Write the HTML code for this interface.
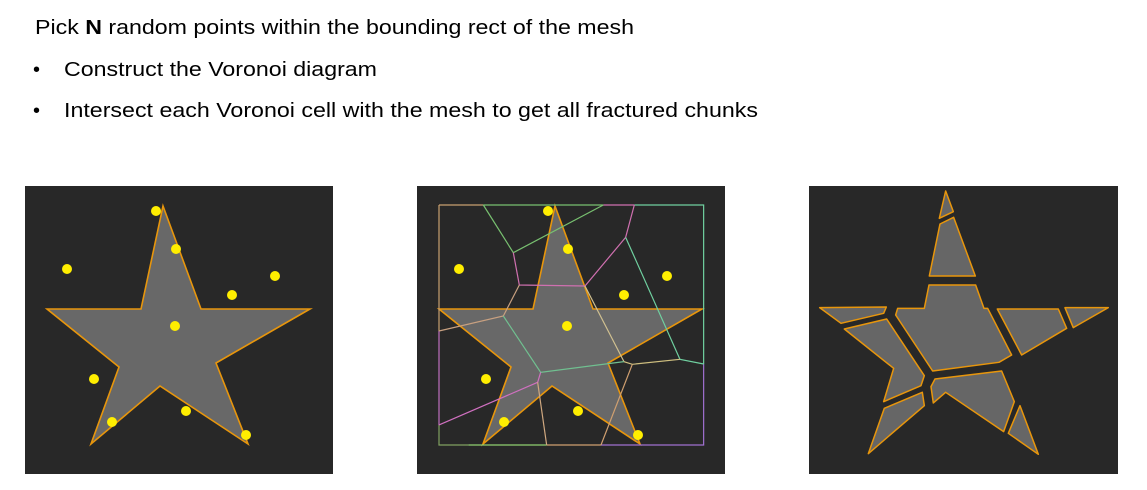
<!DOCTYPE html>
<html><head><meta charset="utf-8"><style>
html,body{margin:0;padding:0;background:#fff;width:1147px;height:490px;overflow:hidden}
svg{display:block}
text{font-family:"Liberation Sans",Arial,sans-serif;fill:#000}
</style></head><body>
<svg id="s" width="1147" height="490" viewBox="0 0 1147 490">
  <text x="35" y="34" font-size="20" textLength="599" lengthAdjust="spacingAndGlyphs">Pick <tspan font-weight="bold">N</tspan> random points within the bounding rect of the mesh</text>
  <text x="33" y="76" font-size="20">•</text>
  <text x="64" y="76" font-size="20" textLength="313" lengthAdjust="spacingAndGlyphs">Construct the Voronoi diagram</text>
  <text x="33" y="117" font-size="20">•</text>
  <text x="64" y="117" font-size="20" textLength="694" lengthAdjust="spacingAndGlyphs">Intersect each Voronoi cell with the mesh to get all fractured chunks</text>

  <g>
    <rect x="25" y="186" width="308" height="288" fill="#282828"/>
    <g id="star1" transform="translate(-392,0)"></g>
    <g id="pts1" transform="translate(-392,0)"></g>
  </g>

  <g>
    <rect x="417" y="186" width="308" height="288" fill="#282828"/>
    <g id="star2"></g>
    <g transform="translate(415,185) scale(0.3333)" fill="none" stroke-width="3.6">
      <path d="M72,60 L205,60" stroke="#c8a070"/>
      <path d="M205,60 L565,60" stroke="#78c070"/>
      <path d="M565,60 L658,60" stroke="#d070b0"/>
      <path d="M658,60 L866,60 L866,537" stroke="#70d0a0"/>
      <path d="M866,537 L866,780 L558,780" stroke="#a070d0"/>
      <path d="M558,780 L395,780" stroke="#d0a070"/>
      <path d="M395,780 L160,780" stroke="#90d070"/>
      <path d="M160,780 L72,780 L72,720" stroke="#80a060"/>
      <path d="M72,720 L72,438" stroke="#c070c0"/>
      <path d="M72,438 L72,60" stroke="#c8a070"/>
      <path d="M205,60 L295,203 L565,60" stroke="#78c070"/>
      <path d="M295,203 L313,300 L510,303 L632,157 L658,60" stroke="#d070b0"/>
      <path d="M632,157 L795,523 L866,537" stroke="#70d0a0"/>
      <path d="M510,303 L627,530" stroke="#d0c090"/>
      <path d="M313,300 L265,393 L72,438" stroke="#c8a080"/>
      <path d="M265,393 L377,562 L627,530" stroke="#70c090"/>
      <path d="M627,530 L652,538 L795,523" stroke="#d0c080"/>
      <path d="M652,538 L558,780" stroke="#d0a070"/>
      <path d="M377,562 L368,592 L72,720" stroke="#d070c0"/>
      <path d="M368,592 L395,780" stroke="#d0a880"/>
    </g>
    <g id="pts2"></g>
  </g>

  <g>
    <rect x="809" y="186" width="309" height="288" fill="#282828"/>
    <g transform="translate(805,185) scale(0.3333)" fill="#666" stroke="#e8960c" stroke-width="4.5" stroke-linejoin="round">
      <polygon points="422,18 445,80 403,100"/>
      <polygon points="405,117 446,97 511,273 373,273"/>
      <polygon points="372,300 512,300 537,370 548,370 620,510 582,532 383,558 272,390 278,370 358,370"/>
      <polygon points="44,368 244,366 236,385 108,415"/>
      <polygon points="118,432 245,402 358,572 348,602 236,650 266,550"/>
      <polygon points="577,372 760,372 785,430 650,510"/>
      <polygon points="780,368 910,368 805,428"/>
      <polygon points="238,670 352,622 358,662 190,806"/>
      <polygon points="390,582 590,558 628,650 596,740 422,622 385,654 378,605"/>
      <polygon points="645,662 700,808 610,745"/>
    </g>
  </g>
</svg>
<script>
// star outline vertices (panel-2 coordinates)
const starX = [555, 593, 702, 608, 640, 552, 483, 511, 439, 533];
const starY = [206, 309, 309, 363, 444, 386, 444, 367, 309, 309];
// random sample points (panel-2 coordinates)
const ptX = [548, 568, 459, 667, 624, 567, 486, 578, 504, 638];
const ptY = [211, 249, 269, 276, 295, 326, 379, 411, 422, 435];
const NS = 'http://www.w3.org/2000/svg';
function drawStar(gid) {
  const g = document.getElementById(gid);
  const p = document.createElementNS(NS, 'polygon');
  p.setAttribute('points', starX.map((x, i) => x + ',' + starY[i]).join(' '));
  p.setAttribute('fill', '#686868');
  p.setAttribute('stroke', '#e8960c');
  p.setAttribute('stroke-width', '1.6');
  p.setAttribute('stroke-linejoin', 'miter');
  
  
  g.appendChild(p);
}
function drawPts(gid) {
  const g = document.getElementById(gid);
  for (let i = 0; i < ptX.length; i++) {
    const c = document.createElementNS(NS, 'circle');
    c.setAttribute('cx', ptX[i]);
    c.setAttribute('cy', ptY[i]);
    c.setAttribute('r', '5');
    c.setAttribute('fill', '#ffee00');
    
    
    g.appendChild(c);
  }
}
drawStar('star1'); drawPts('pts1');
drawStar('star2'); drawPts('pts2');
</script>
</body></html>
